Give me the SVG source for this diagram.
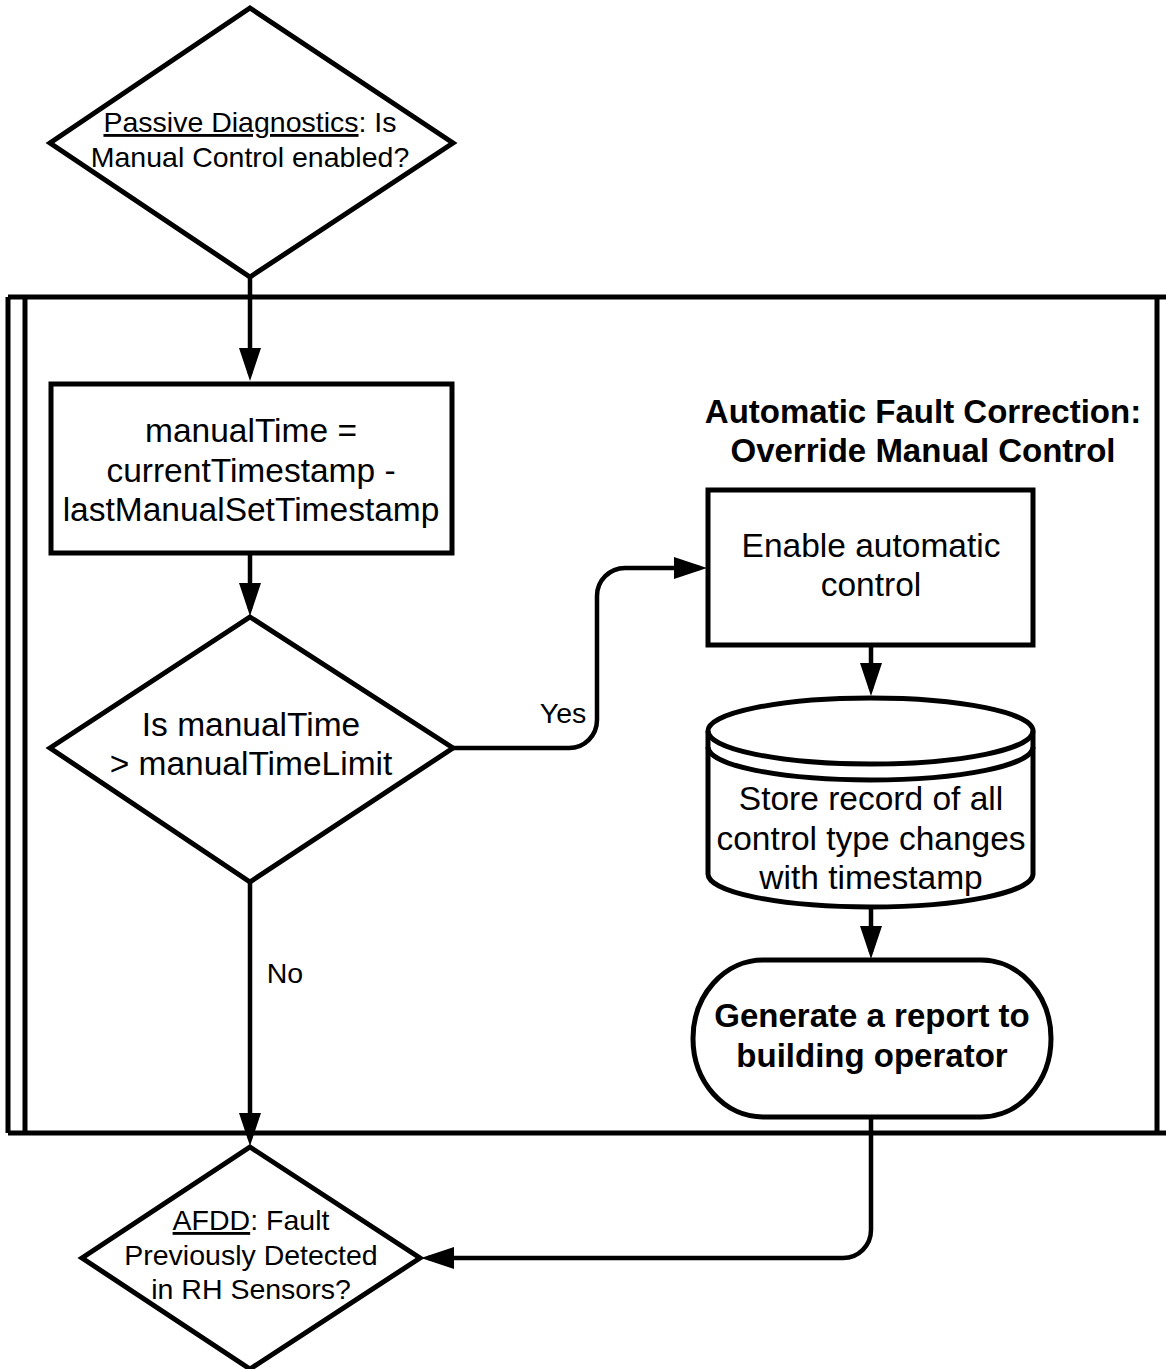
<svg xmlns="http://www.w3.org/2000/svg" width="1166" height="1369" viewBox="0 0 1166 1369">
<style>
.s{fill:#fff;stroke:#000;stroke-width:5;stroke-linejoin:miter}
.c{fill:none;stroke:#000;stroke-width:4.5}
.t{font-family:"Liberation Sans",Arial,sans-serif;fill:#000;text-anchor:middle}
.m{font-size:33.5px}
.d{font-size:28.5px}
.b{font-size:33px;font-weight:bold}
.u{text-decoration:underline}
</style>
<defs>
<marker id="ah" markerUnits="userSpaceOnUse" markerWidth="34" markerHeight="24" viewBox="0 0 34 24" refX="26" refY="12" orient="auto">
<path d="M0,1 L33,12 L0,23 Z" fill="#000"/>
</marker>
</defs>
<rect width="1166" height="1369" fill="#fff"/>

<g id="container">
<path class="c" style="stroke-width:5" d="M8,297 H1172 M8,1133 H1172 M8,297 V1133 M25,297 V1133 M1157,297 V1133"/>
</g>

<g id="n1">
<polygon class="s" points="250,8 453,143 250,277 50,143"/>
<text class="t d" x="250" y="132"><tspan class="u">Passive Diagnostics</tspan>: Is</text>
<text class="t d" x="250" y="167">Manual Control enabled?</text>
</g>

<g id="n2">
<rect class="s" x="51" y="384" width="401" height="169"/>
<text class="t m" x="251" y="442">manualTime =</text>
<text class="t m" x="251" y="482">currentTimestamp -</text>
<text class="t m" x="251" y="521">lastManualSetTimestamp</text>
</g>

<g id="n3">
<polygon class="s" points="250,617 453,748 250,882 50,748"/>
<text class="t m" x="251" y="736">Is manualTime</text>
<text class="t m" x="251" y="775">&gt; manualTimeLimit</text>
</g>

<g id="heading">
<text class="t b" x="923" y="423">Automatic Fault Correction:</text>
<text class="t b" x="923" y="462">Override Manual Control</text>
</g>

<g id="n4">
<rect class="s" x="708" y="490" width="325" height="155"/>
<text class="t m" x="871" y="557">Enable automatic</text>
<text class="t m" x="871" y="596">control</text>
</g>

<g id="n5">
<path class="s" d="M708,731 V874 A162.5,33 0 0 0 1033,874 V731 A162.5,33 0 0 0 708,731 Z"/>
<path class="c" style="stroke-width:5" d="M708,731 A162.5,33 0 0 0 1033,731"/>
<path class="c" style="stroke-width:5" d="M708,747 A162.5,33 0 0 0 1033,747"/>
<text class="t m" x="871" y="810">Store record of all</text>
<text class="t m" x="871" y="850">control type changes</text>
<text class="t m" x="871" y="889">with timestamp</text>
</g>

<g id="n6">
<path class="s" d="M763,960 H981 A70,78.5 0 0 1 981,1117 H763 A70,78.5 0 0 1 763,960 Z"/>
<text class="t b" x="872" y="1027">Generate a report to</text>
<text class="t b" x="872" y="1067">building operator</text>
</g>

<g id="n7">
<polygon class="s" points="250,1147 420,1258 250,1369 82,1258"/>
<text class="t d" x="251" y="1230"><tspan class="u">AFDD</tspan>: Fault</text>
<text class="t d" x="251" y="1265">Previously Detected</text>
<text class="t d" x="251" y="1299">in RH Sensors?</text>
</g>

<g id="connectors">
<path class="c" d="M250,277 V374" marker-end="url(#ah)"/>
<path class="c" d="M250,553 V609" marker-end="url(#ah)"/>
<path class="c" d="M453,748 H569 A28,28 0 0 0 597,720 V596 A28,28 0 0 1 625,568 H700" marker-end="url(#ah)"/>
<path class="c" d="M871,645 V689" marker-end="url(#ah)"/>
<path class="c" d="M871,907 V952" marker-end="url(#ah)"/>
<path class="c" d="M250,882 V1139" marker-end="url(#ah)"/>
<path class="c" d="M871,1117 V1230 A28,28 0 0 1 843,1258 H428" marker-end="url(#ah)"/>
<text class="t d" x="563" y="723">Yes</text>
<text class="t d" x="285" y="983">No</text>
</g>
</svg>
